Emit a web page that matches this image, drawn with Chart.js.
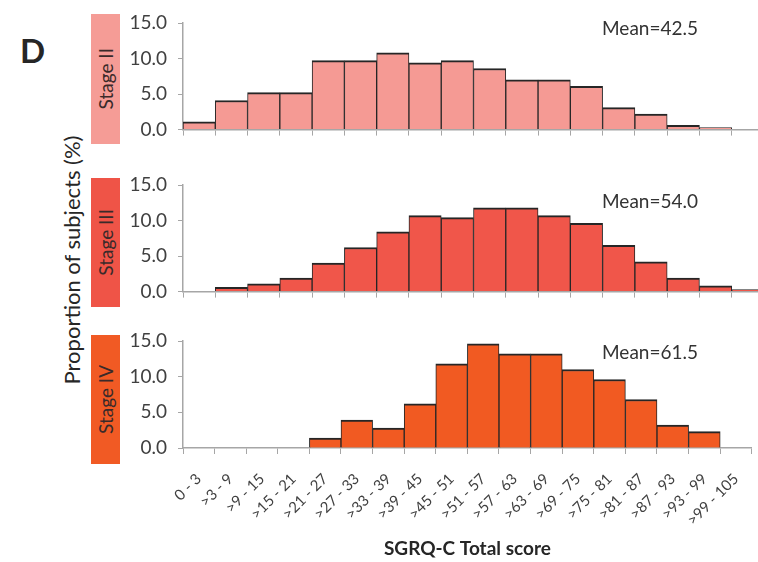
<!DOCTYPE html>
<html>
<head>
<meta charset="utf-8">
<script src="https://cdn.jsdelivr.net/npm/chart.js@4"></script>
<style>
  body { margin: 0; background: #fff; }
  #wrap { position: relative; width: 758px; height: 562px; overflow: hidden; background: #fff; font-family: Lato, sans-serif; }
  #wrap canvas { position: absolute; }
  .letter { position: absolute; left: 20px; top: 34px; font-size: 33px; line-height: 33px; font-weight: bold; color: #262626; }
  .ytitle { position: absolute; left: -78px; top: 247px; width: 300px; text-align: center; font-size: 22px; line-height: 26px; color: #262626; transform: rotate(-90deg); }
  .stage { position: absolute; left: 91px; width: 29px; display: flex; align-items: center; justify-content: center; }
  .stage span { writing-mode: vertical-rl; transform: rotate(180deg); font-size: 19px; color: #3a2a2a; white-space: nowrap; }
  .mean { position: absolute; left: 602px; font-size: 19px; line-height: 22px; color: #333; }
</style>
</head>
<body>
<div id="wrap">
  <div class="letter">D</div>
  <div class="ytitle">Proportion of subjects (%)</div>

  <div class="stage" style="top:14px;height:130px;background:#f59c96"><span>Stage II</span></div>
  <div class="stage" style="top:178px;height:129px;background:#ef5447"><span>Stage III</span></div>
  <div class="stage" style="top:335px;height:129px;background:#f15a24"><span>Stage IV</span></div>

  <canvas id="panel2" width="644" height="152" style="left:120px;top:0"></canvas>
  <canvas id="panel3" width="644" height="152" style="left:120px;top:162px"></canvas>
  <canvas id="panel4" width="645" height="244" style="left:120px;top:318px"></canvas>

  <div class="mean" style="top:17px" id="mean2"></div>
  <div class="mean" style="top:190px" id="mean3"></div>
  <div class="mean" style="top:341px" id="mean4"></div>
</div>

<script>
// SGRQ-C total score bins
const categories = ['0 - 3', '>3 - 9', '>9 - 15', '>15 - 21', '>21 - 27', '>27 - 33',
  '>33 - 39', '>39 - 45', '>45 - 51', '>51 - 57', '>57 - 63', '>63 - 69',
  '>69 - 75', '>75 - 81', '>81 - 87', '>87 - 93', '>93 - 99', '>99 - 105'];

// proportion of subjects (%) per bin, by GOLD stage
const stageII = [1.1, 4.1, 5.2, 5.2, 9.7, 9.7, 10.8, 9.4, 9.7, 8.6, 7.0, 7.0, 6.1, 3.1, 2.2, 0.6, 0.3, null];
const stageIII = [null, 0.6, 1.1, 1.9, 4.0, 6.2, 8.4, 10.7, 10.4, 11.8, 11.8, 10.7, 9.6, 6.5, 4.2, 1.9, 0.8, 0.3];
const stageIV = [null, null, null, null, 1.4, 3.9, 2.8, 6.2, 11.8, 14.6, 13.2, 13.2, 11.0, 9.6, 6.8, 3.2, 2.3, null];

const meanScores = ['42.5', '54.0', '61.5'];
const yTicks = [0, 5, 10, 15];

const axisGrey = '#a6a6a6';

Chart.defaults.font.family = 'Lato';
Chart.defaults.color = '#404040';

function makePanel(id, values, color, bottom) {
    const ctx = document.getElementById(id);
    return new Chart(ctx, {
        type: 'bar',
        data: {
            labels: categories,
            datasets: [{
                data: values,
                backgroundColor: color,
                borderColor: '#262626',
                borderWidth: { top: 2, left: 1, right: 1, bottom: 0 },
                barPercentage: 1,
                categoryPercentage: 1
            }]
        },
        options: {
            responsive: false,
            animation: false,
            layout: {
                padding: { top: 23, left: 0, right: bottom ? 10 : 0, bottom: bottom ? 0 : 4 }
            },
            plugins: {
                legend: { display: false },
                tooltip: { enabled: false }
            },
            scales: {
                y: {
                    min: 0,
                    max: 15,
                    afterBuildTicks: function(scale) {
                        scale.ticks = yTicks.map(v => ({ value: v }));
                    },
                    afterFit: function(scale) {
                        scale.width = 63;
                    },
                    ticks: {
                        padding: 11,
                        font: { size: 19 },
                        color: '#404040',
                        callback: function(v) { return v.toFixed(1); }
                    },
                    grid: {
                        drawOnChartArea: false,
                        tickLength: 5,
                        color: axisGrey
                    },
                    border: { color: axisGrey, width: 1.5 }
                },
                x: {
                    afterFit: function(scale) {
                        scale.height = bottom ? 114 : 10;
                    },
                    ticks: {
                        display: bottom,
                        autoSkip: false,
                        minRotation: 45,
                        maxRotation: 45,
                        padding: 16,
                        font: { size: 15 },
                        color: '#404040'
                    },
                    grid: {
                        drawOnChartArea: false,
                        tickLength: 6,
                        color: axisGrey
                    },
                    border: { color: axisGrey, width: 1.5 },
                    title: {
                        display: bottom,
                        text: 'SGRQ-C Total score',
                        font: { size: 19, weight: 'bold' },
                        color: '#262626',
                        padding: { top: 4, bottom: 2 }
                    }
                }
            }
        }
    });
}

makePanel('panel2', stageII, '#f59a94', false);
makePanel('panel3', stageIII, '#f0564a', false);
makePanel('panel4', stageIV, '#f15a22', true);

document.getElementById('mean2').textContent = 'Mean=' + meanScores[0];
document.getElementById('mean3').textContent = 'Mean=' + meanScores[1];
document.getElementById('mean4').textContent = 'Mean=' + meanScores[2];
</script>
</body>
</html>
